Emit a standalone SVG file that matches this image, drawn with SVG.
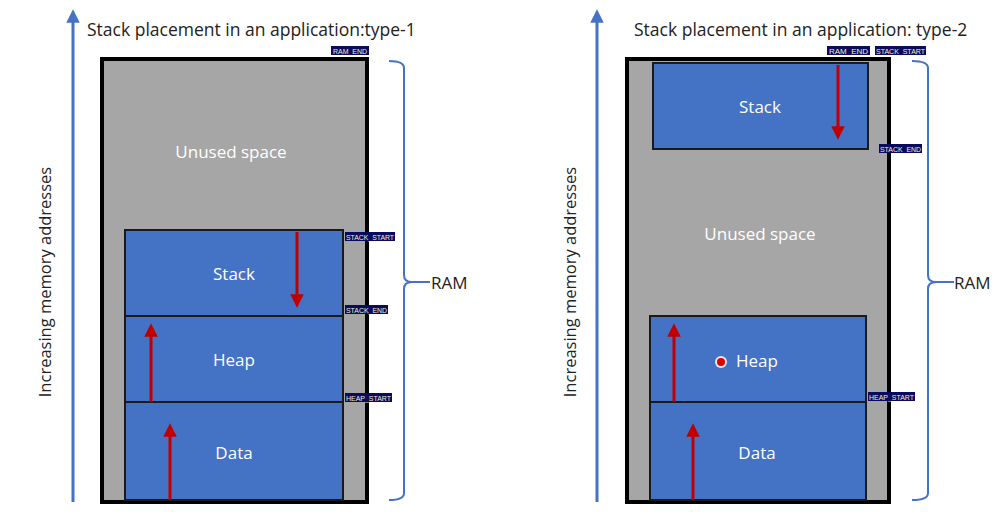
<svg xmlns="http://www.w3.org/2000/svg" width="1002" height="520" viewBox="0 0 1002 520">
<style>
.t{font-family:"Open Sans","Liberation Sans",sans-serif;fill:#222}
.w{font-family:"Open Sans","Liberation Sans",sans-serif;fill:#fff;font-size:17px;text-anchor:middle}
.box{fill:#a6a6a6;stroke:#000;stroke-width:4}
.blk{fill:#4472c4;stroke:#1a1a1a;stroke-width:2}
.red{stroke:#c00000;stroke-width:3;fill:none}
.blue{stroke:#4472c4;stroke-width:3;fill:none}
.br{stroke:#4472c4;stroke-width:2;fill:none}
.tagbg{fill:#0a0a5e}
.tag{font-family:"Liberation Sans",sans-serif;font-size:8px;fill:#f4f0c0}
</style>
<defs>
<marker id="ra" viewBox="0 0 10 10" refX="5" refY="5" markerWidth="4.5" markerHeight="4.5" orient="auto"><path d="M0,0L10,5L0,10z" fill="#c00000"/></marker>
<marker id="ba" viewBox="0 0 10 10" refX="5" refY="5" markerWidth="4.5" markerHeight="4.5" orient="auto"><path d="M0,0L10,5L0,10z" fill="#4472c4"/></marker>
</defs>
<rect width="1002" height="520" fill="#fff"/>

<g id="left-panel">
<text class="t" x="87" y="36" font-size="17.5">Stack placement in an application:type-1</text>
<rect class="box" x="102" y="59" width="265" height="443"/>
<text class="w" x="231" y="158" font-size="18">Unused space</text>
</g>
<g id="left-stack"><rect class="blk" x="125" y="230" width="218" height="86"/><text class="w" x="234" y="280">Stack</text></g>
<g id="left-heap"><rect class="blk" x="125" y="316" width="218" height="86"/><text class="w" x="234" y="366">Heap</text></g>
<g id="left-data"><rect class="blk" x="125" y="402" width="218" height="98"/><text class="w" x="234" y="459">Data</text></g>

<g id="left-tags">
<rect class="tagbg" x="331" y="46" width="38" height="9"/><text class="tag" x="333" y="53.5" textLength="34" lengthAdjust="spacingAndGlyphs">RAM_END</text>
<rect class="tagbg" x="345" y="232" width="50" height="9"/><text class="tag" x="346" y="239.5" textLength="48" lengthAdjust="spacingAndGlyphs">STACK_START</text>
<rect class="tagbg" x="345" y="305" width="43" height="9"/><text class="tag" x="346" y="312.5" textLength="41" lengthAdjust="spacingAndGlyphs">STACK_END</text>
<rect class="tagbg" x="345" y="393" width="47" height="9"/><text class="tag" x="346" y="400.5" textLength="45" lengthAdjust="spacingAndGlyphs">HEAP_START</text>
</g>

<g id="right-panel">
<text class="t" x="634" y="36" font-size="17.5">Stack placement in an application: type-2</text>
<rect class="box" x="627" y="59" width="262" height="443"/>
<text class="w" x="760" y="240" font-size="18">Unused space</text>
</g>
<g id="right-stack"><rect class="blk" x="653" y="63" width="215" height="86"/><text class="w" x="760" y="113">Stack</text></g>
<g id="right-heap"><rect class="blk" x="650" y="316" width="216" height="86"/><text class="w" x="757" y="367">Heap</text><circle cx="721" cy="362" r="6" fill="#fff" opacity="0.85"/><circle cx="721" cy="362" r="4" fill="#e00000"/></g>
<g id="right-data"><rect class="blk" x="650" y="402" width="216" height="98"/><text class="w" x="757" y="459">Data</text></g>

<g id="right-tags">
<rect class="tagbg" x="827" y="46" width="43" height="9"/><text class="tag" x="829" y="53.5" textLength="39" lengthAdjust="spacingAndGlyphs">RAM_END</text>
<rect class="tagbg" x="875" y="46" width="51" height="9"/><text class="tag" x="876" y="53.5" textLength="49" lengthAdjust="spacingAndGlyphs">STACK_START</text>
<rect class="tagbg" x="879" y="144" width="43" height="9"/><text class="tag" x="880" y="151.5" textLength="41" lengthAdjust="spacingAndGlyphs">STACK_END</text>
<rect class="tagbg" x="868" y="392" width="47" height="9"/><text class="tag" x="869" y="399.5" textLength="45" lengthAdjust="spacingAndGlyphs">HEAP_START</text>
</g>

<g id="connectors">
<line class="red" x1="297" y1="232" x2="297" y2="301" marker-end="url(#ra)"/>
<line class="red" x1="151" y1="402" x2="151" y2="330" marker-end="url(#ra)"/>
<line class="red" x1="170" y1="500" x2="170" y2="430" marker-end="url(#ra)"/>
<line class="red" x1="838" y1="65" x2="838" y2="133" marker-end="url(#ra)"/>
<line class="red" x1="674" y1="402" x2="674" y2="330" marker-end="url(#ra)"/>
<line class="red" x1="693" y1="500" x2="693" y2="430" marker-end="url(#ra)"/>
<line class="blue" x1="73" y1="502" x2="73" y2="16" marker-end="url(#ba)"/>
<line class="blue" x1="597" y1="502" x2="597" y2="16" marker-end="url(#ba)"/>
<path class="br" d="M389,61 Q404,61 404,68 L404,275 Q404,282 412,282 Q404,282 404,289 L404,493 Q404,500 389,500"/>
<line class="br" x1="410" y1="282" x2="430" y2="282"/>
<path class="br" d="M912,61 Q928,61 928,68 L928,275 Q928,282 936,282 Q928,282 928,289 L928,493 Q928,500 912,500"/>
<line class="br" x1="934" y1="282" x2="954" y2="282"/>
</g>

<g id="labels">
<text class="t" x="431" y="289" font-size="17">RAM</text>
<text class="t" x="954" y="289" font-size="17">RAM</text>
<text class="t" transform="translate(51,282) rotate(-90)" font-size="16.5" text-anchor="middle">Increasing memory addresses</text>
<text class="t" transform="translate(576,282) rotate(-90)" font-size="16.5" text-anchor="middle">Increasing memory addresses</text>
</g>
</svg>
